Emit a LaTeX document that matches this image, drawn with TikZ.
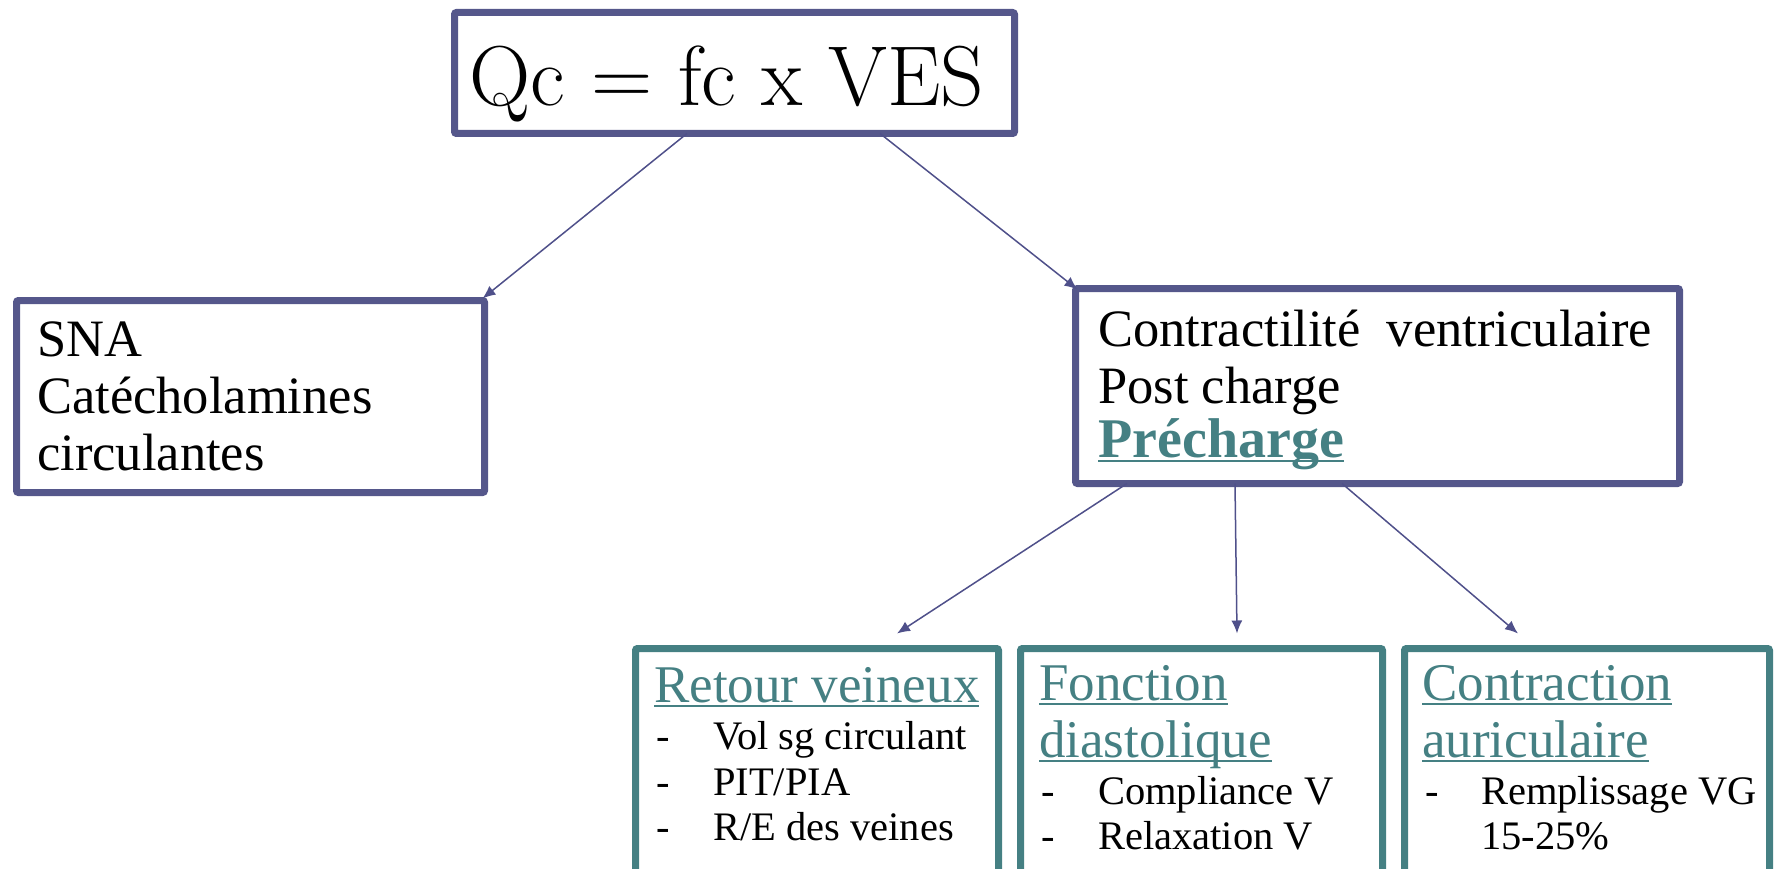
\documentclass[tikz,border=0pt]{standalone}
\usepackage{fontspec}
\newfontfamily\geo{Liberation Serif}
\usetikzlibrary{arrows.meta}
\definecolor{boxpurple}{HTML}{55578B}
\definecolor{arrpurple}{HTML}{4F508A}
\definecolor{teal}{HTML}{458083}
\newcommand\myul[1]{\setbox0\hbox{#1}\rlap{\rule[-5pt]{\wd0}{2.5pt}}\box0}
\tikzset{
  pbox/.style={draw=boxpurple, line width=7pt, rounded corners=2pt, inner sep=0pt, outer sep=0pt},
  tbox/.style={draw=teal, line width=7pt, rounded corners=2pt, inner sep=0pt, outer sep=0pt},
  txt/.style={anchor=base west, inner sep=0pt, font=\geo\fontsize{52.5}{57}\selectfont},
  head/.style={anchor=base west, inner sep=0pt, text=teal, font=\geo\fontsize{53}{57}\selectfont},
  item/.style={anchor=base west, inner sep=0pt, font=\geo\fontsize{40.5}{46}\selectfont},
  arr/.style={draw=arrpurple, line width=1.5pt, -{Latex[length=13pt,width=11pt]}}
}
\begin{document}
\begin{tikzpicture}[x=1pt,y=-1pt]
\useasboundingbox (0,0) rectangle (1780,869);
\clip (0,0) rectangle (1780,869);
% boxes
\node[pbox, minimum width=560pt, minimum height=121pt] (top) at (734.5,73) {};
\node[pbox, minimum width=468pt, minimum height=192pt] (left) at (250.5,396.5) {};
\node[pbox, minimum width=604pt, minimum height=195pt] (right) at (1377.5,386) {};
\node[tbox, minimum width=363pt, minimum height=231pt] (b1) at (817,764) {};
\node[tbox, minimum width=362pt, minimum height=231pt] (b2) at (1201.5,764) {};
\node[tbox, minimum width=365pt, minimum height=231pt] (b3) at (1587,764) {};
% top text
\node[anchor=base, inner sep=0pt, font=\fontsize{85}{90}\selectfont] (qc) at (727,106) {Qc = fc x VES};
% left text
\node[txt] (l1) at (37,356) {SNA};
\node[txt] (l2) at (37,413) {Catécholamines};
\node[txt] (l3) at (37,470) {circulantes};
% right text
\node[txt] (r1) at (1098,346) {Contractilité\ \ ventriculaire};
\node[txt] (r2) at (1098,403) {Post charge};
\node[txt, text=teal, font=\geo\bfseries\fontsize{56}{57}\selectfont] (r3) at (1098,457) {\myul{Précharge}};
% bottom box 1
\node[head] (h1) at (654,702) {\myul{Retour veineux}};
\node[item] (i11) at (656,749) {\makebox[57pt][l]{-}Vol sg circulant};
\node[item] (i12) at (656,795) {\makebox[57pt][l]{-}PIT/PIA};
\node[item] (i13) at (656,840) {\makebox[57pt][l]{-}R/E des veines};
% bottom box 2
\node[head] (h21) at (1039,700) {\myul{Fonction}};
\node[head] (h22) at (1039,757) {\myul{diastolique}};
\node[item] (i21) at (1041,804) {\makebox[57pt][l]{-}Compliance V};
\node[item] (i22) at (1041,849) {\makebox[57pt][l]{-}Relaxation V};
% bottom box 3
\node[head] (h31) at (1422,700) {\myul{Contraction}};
\node[head] (h32) at (1422,757) {\myul{auriculaire}};
\node[item] (i31) at (1425,804) {\makebox[56pt][l]{-}Remplissage VG};
\node[item] (i32) at (1481,849) {15-25\%};
% arrows
\draw[arr] ([xshift=-47.5pt]top.south) -- ([xshift=-2pt,yshift=2pt]left.north east);
\draw[arr] ([xshift=145.5pt]top.south) -- ([xshift=2pt,yshift=-1pt]right.north west);
\draw[arr] ([xshift=-250.5pt]right.south) -- ([xshift=80pt,yshift=15pt]b1.north);
\draw[arr] ([xshift=-142.5pt]right.south) -- ([xshift=35.5pt,yshift=15pt]b2.north);
\draw[arr] ([xshift=-35.5pt]right.south) -- ([xshift=-69pt,yshift=15pt]b3.north);
\end{tikzpicture}
\end{document}
